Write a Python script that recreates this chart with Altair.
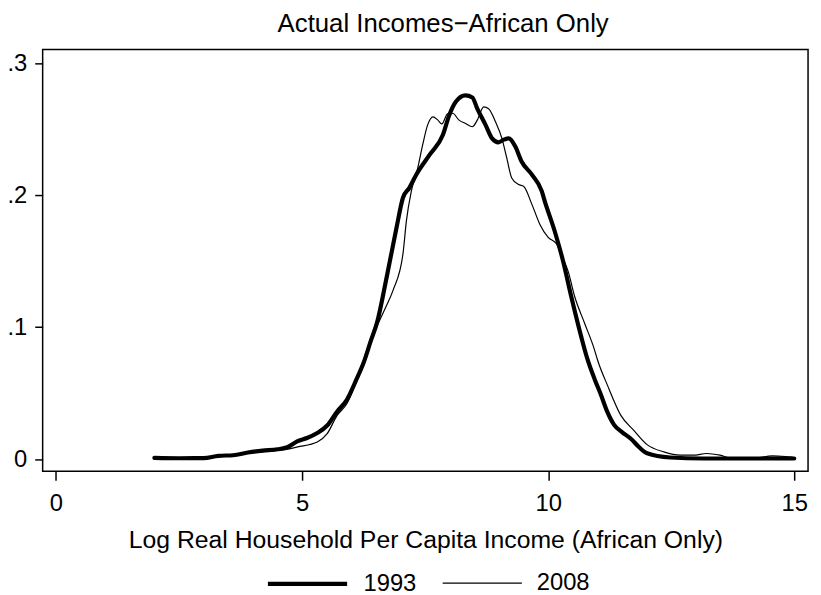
import altair as alt
import pandas as pd

years = ["1993", "2008"]

x_1993 = [2.0, 2.5, 3.0, 3.3, 3.6, 3.9, 4.2, 4.5, 4.7, 4.9, 5.1, 5.31, 5.51, 5.71, 5.91,
          6.1, 6.25, 6.4, 6.52, 6.72, 6.92, 7.05, 7.18, 7.32, 7.59, 7.86, 7.99, 8.12,
          8.32, 8.46, 8.56, 8.73, 8.86, 8.99, 9.1, 9.2, 9.33, 9.46, 9.67, 9.87, 9.93,
          10.13, 10.30, 10.47, 10.67, 10.8, 10.95, 11.07, 11.2, 11.34, 11.5, 11.68,
          11.85, 12.01, 12.48, 13.15, 14.0, 15.0]
y_1993 = [0.001, 0.0007, 0.0008, 0.0025, 0.003, 0.005, 0.0065, 0.0075, 0.009, 0.0135,
          0.016, 0.0198, 0.0255, 0.036, 0.045, 0.06, 0.073, 0.09, 0.103, 0.138, 0.1755,
          0.198, 0.2055, 0.2155, 0.2305, 0.2455, 0.2605, 0.2705, 0.2755, 0.274, 0.2655,
          0.253, 0.243, 0.240, 0.242, 0.243, 0.237, 0.2255, 0.2155, 0.203, 0.1955,
          0.173, 0.1505, 0.123, 0.093, 0.0755, 0.06, 0.049, 0.036, 0.026, 0.0205, 0.0155,
          0.009, 0.0045, 0.0013, 0.0005, 0.0005, 0.0005]

x_2008 = [2.0, 2.5, 3.0, 3.5, 4.0, 4.3, 4.6, 4.91, 5.31, 5.51, 5.71, 5.91, 6.2, 6.45,
          6.58, 6.7, 6.85, 7.05, 7.12, 7.22, 7.35, 7.45, 7.55, 7.66, 7.76, 7.84, 7.96,
          8.06, 8.19, 8.32, 8.46, 8.56, 8.69, 8.79, 8.93, 9.06, 9.16, 9.26, 9.4, 9.5,
          9.67, 9.83, 10.0, 10.17, 10.3, 10.4, 10.54, 10.74, 10.94, 11.0, 11.21, 11.48,
          11.74, 12.01, 12.35, 12.68, 12.95, 13.22, 13.49, 13.75, 14.16, 14.56, 14.82,
          14.96]
y_2008 = [0.0012, 0.0008, 0.001, 0.003, 0.005, 0.006, 0.007, 0.0093, 0.013, 0.0193,
          0.033, 0.042, 0.068, 0.095, 0.1055, 0.115, 0.128, 0.1555, 0.1805, 0.203,
          0.2205, 0.238, 0.253, 0.2593, 0.2568, 0.254, 0.2618, 0.262, 0.2568, 0.2543,
          0.2518, 0.2568, 0.2668, 0.2655, 0.2555, 0.243, 0.228, 0.213, 0.208, 0.2068,
          0.193, 0.178, 0.168, 0.163, 0.152, 0.143, 0.123, 0.103, 0.083, 0.0755,
          0.0555, 0.033, 0.0218, 0.011, 0.0055, 0.003, 0.003, 0.0043, 0.003, 0.0005,
          0.0005, 0.0025, 0.002, 0.0015]

x_ticks = [0, 5, 10, 15]
y_ticks = [0, 0.1, 0.2, 0.3]

df = pd.concat([
    pd.DataFrame({"x": x_1993, "y": y_1993, "year": "1993", "order": range(len(x_1993))}),
    pd.DataFrame({"x": x_2008, "y": y_2008, "year": "2008", "order": range(len(x_2008))}),
])

FONT = "Liberation Sans"


def make_legend():
    return alt.Legend(title=None, orient="none", legendX=225, legendY=497,
                      direction="horizontal", symbolType="stroke",
                      symbolSize=6400, labelFontSize=24, labelFont=FONT,
                      labelColor="black", labelOffset=14, columnPadding=23,
                      padding=0)


chart = alt.Chart(df).mark_line(interpolate="monotone", strokeCap="round", strokeJoin="round").encode(
    x=alt.X("x:Q",
            scale=alt.Scale(domain=[-0.27, 15.28], nice=False, zero=False),
            axis=alt.Axis(values=x_ticks, format="d", grid=False, domain=False,
                          tickColor="black", tickWidth=1.5, tickSize=9,
                          labelFontSize=24, labelPadding=12, labelColor="black", labelFont=FONT,
                          title="Log Real Household Per Capita Income (African Only)",
                          titleFontSize=25, titleFont=FONT, titleFontWeight="normal",
                          titleColor="black", titlePadding=12)),
    y=alt.Y("y:Q",
            scale=alt.Scale(domain=[-0.0092, 0.3103], nice=False, zero=False),
            axis=alt.Axis(values=y_ticks, grid=False, domain=False,
                          labelExpr="datum.value == 0 ? '0' : substring(format(datum.value, '.1f'), 1)",
                          tickColor="black", tickWidth=1.5, tickSize=8,
                          labelFontSize=24, labelPadding=8, labelColor="black", labelFont=FONT,
                          title=None)),
    color=alt.Color("year:O", scale=alt.Scale(domain=years, range=["black", "black"]),
                    legend=make_legend()),
    strokeWidth=alt.StrokeWidth("year:O", scale=alt.Scale(domain=years, range=[4.2, 1.2]),
                                legend=make_legend()),
    order="order:Q",
).properties(
    width=773,
    height=426,
    title=alt.TitleParams("Actual Incomes\u2212African Only", fontSize=26, font=FONT,
                          fontWeight="normal", color="black", anchor="middle", offset=13, dx=18),
    autosize=alt.AutoSizeParams(type="none"),
    padding={"left": 35, "top": 39, "right": 5, "bottom": 122},
).configure(
    background="white"
).configure_view(
    stroke="black", strokeWidth=1.5
)

chart.save("out.html", embed_options={"renderer": "svg", "actions": False})
